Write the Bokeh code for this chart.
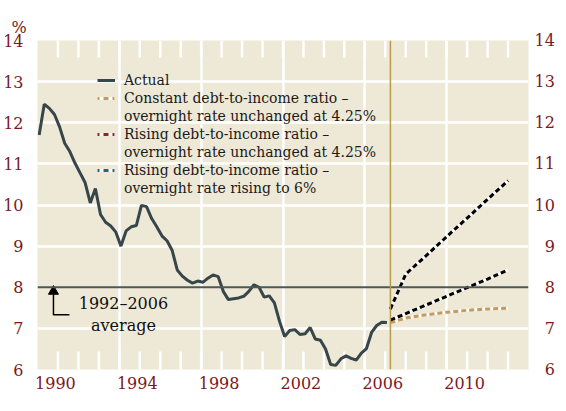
import math
from bokeh.plotting import figure
from bokeh.models import FixedTicker, LinearAxis, Range1d, Span, Legend, LegendItem
from bokeh.core.properties import value
from bokeh.embed import file_html
from bokeh.resources import INLINE

SERIF = "DejaVu Serif"
AXIS_RED = "#7a1a1e"
BG = "#eee8d6"
WHITE = "#ffffff"

# ---- data -------------------------------------------------------------
actual = [11.7, 12.45, 12.35, 12.2, 11.9, 11.5, 11.3, 11.02, 10.78, 10.54,
          10.05, 10.4, 9.77, 9.58, 9.49, 9.34, 9.0, 9.37, 9.47, 9.5,
          9.99, 9.96, 9.67, 9.47, 9.25, 9.13, 8.9, 8.42, 8.27, 8.17,
          8.1, 8.15, 8.12, 8.22, 8.3, 8.26, 7.9, 7.7, 7.72, 7.74,
          7.78, 7.9, 8.06, 8.0, 7.76, 7.79, 7.62, 7.17, 6.8, 6.95,
          6.97, 6.85, 6.87, 7.02, 6.74, 6.71, 6.5, 6.12, 6.1, 6.26,
          6.33, 6.27, 6.23, 6.4, 6.51, 6.9, 7.07, 7.15, 7.14]
quarter_x = [1990.08 + 0.25 * i for i in range(len(actual))]

proj_years = [2007.25, 2008, 2009, 2010, 2011, 2012, 2013]
constant_ratio = [7.14, 7.25, 7.33, 7.39, 7.44, 7.47, 7.49]
rising_unchanged = [7.2, 7.36, 7.57, 7.78, 7.99, 8.2, 8.42]
rising_to_6 = [7.47, 8.32, 8.77, 9.23, 9.68, 10.14, 10.59]

average_1992_2006 = 8.0
forecast_start = 2007.25

label_years = [1990, 1994, 1998, 2002, 2006, 2010]
grid_years = [1994, 1998, 2002, 2006, 2010]
minor_years = list(range(1991, 2014))
y_ticks = [6, 7, 8, 9, 10, 11, 12, 13, 14]
y_grid = [7, 9, 10, 11, 12, 13]
Y_MIN, Y_MAX = 6, 14
X_MIN, X_MAX = 1990, 2014

legend_labels = ["Actual",
                 "Constant debt-to-income ratio \u2013",
                 "overnight rate unchanged at 4.25%",
                 "Rising debt-to-income ratio \u2013",
                 "overnight rate unchanged at 4.25%",
                 "Rising debt-to-income ratio \u2013",
                 "overnight rate rising to 6%"]
note_lines = ["1992\u20132006", "average"]

# ---- figure -----------------------------------------------------------
p = figure(frame_width=491, frame_height=329,
           x_range=Range1d(X_MIN, X_MAX), y_range=Range1d(Y_MIN, Y_MAX),
           output_backend="svg", toolbar_location=None,
           min_border_left=33, min_border_right=26,
           min_border_top=40, min_border_bottom=26,
           background_fill_color=BG, border_fill_color=WHITE,
           outline_line_color=None)

p.title.text = "%"
p.title.align = "left"
p.title.offset = -26
p.title.standoff = 8
p.title.text_font = SERIF
p.title.text_font_size = "16px"
p.title.text_font_style = "normal"
p.title.text_color = AXIS_RED

# white grid lines (Bokeh grids)
p.xgrid.ticker = FixedTicker(ticks=grid_years)
p.ygrid.ticker = FixedTicker(ticks=y_grid)
p.xgrid.grid_line_color = WHITE
p.ygrid.grid_line_color = WHITE
p.xgrid.grid_line_width = 2.5
p.ygrid.grid_line_width = 2.5

# short white year ticks inside top and bottom edges
p.ray(x=minor_years, y=[Y_MIN] * len(minor_years), length=18,
      length_units="screen", angle=math.pi / 2, line_color=WHITE,
      line_width=2.5)
p.ray(x=minor_years, y=[Y_MAX] * len(minor_years), length=17,
      length_units="screen", angle=-math.pi / 2, line_color=WHITE,
      line_width=2.5)

LABEL_SHIFT = 0.875
xa = p.xaxis[0]
xa.ticker = FixedTicker(ticks=[y + LABEL_SHIFT for y in label_years])
xa.major_label_overrides = {y + LABEL_SHIFT: str(y) for y in label_years}
xa.axis_line_color = None
xa.major_tick_line_color = None
xa.minor_tick_line_color = None
xa.major_tick_in = 0
xa.major_tick_out = 0
xa.major_label_standoff = 7
xa.major_label_text_font = SERIF
xa.major_label_text_font_size = "16px"
xa.major_label_text_color = AXIS_RED

ya = p.yaxis[0]
ya.ticker = FixedTicker(ticks=y_ticks)
right_axis = LinearAxis(ticker=FixedTicker(ticks=y_ticks))
right_axis.major_label_overrides = {t: ("\u2007" + str(t) if t < 10 else str(t))
                                    for t in y_ticks}
p.add_layout(right_axis, "right")
for ax, so in ((ya, 14), (right_axis, 6)):
    ax.axis_line_color = None
    ax.major_tick_line_color = None
    ax.minor_tick_line_color = None
    ax.major_tick_in = 0
    ax.major_tick_out = 0
    ax.major_label_standoff = so
    ax.major_label_text_font = SERIF
    ax.major_label_text_font_size = "16px"
    ax.major_label_text_color = AXIS_RED

# reference lines
p.add_layout(Span(location=average_1992_2006, dimension="width",
                  line_color="#4b5957", line_width=2))
p.add_layout(Span(location=forecast_start, dimension="height",
                  line_color="#b89b4c", line_width=1.5))

# series
r_actual = p.line(quarter_x, actual, line_color="#37464a", line_width=3)
for vals, col in ((constant_ratio, "#c39b5c"),
                  (rising_unchanged, "black"),
                  (rising_to_6, "black")):
    p.line(proj_years, vals, line_color=WHITE, line_width=3)
    p.line(proj_years, vals, line_color=col, line_width=3, line_dash="5 3")

# legend proxies: single-point lines draw nothing in the plot
def marker(col, vals):
    w = p.line(x=proj_years[:1], y=vals[:1], line_color=WHITE, line_width=3)
    c = p.line(x=proj_years[:1], y=vals[:1], line_color=col, line_width=3,
               line_dash="2 4 5 4")
    return [w, c]

blank = p.line(x=proj_years[:1], y=constant_ratio[:1], line_color=BG,
               line_width=0)
items = [LegendItem(label=legend_labels[0], renderers=[r_actual]),
         LegendItem(label=legend_labels[1], renderers=marker("#c39b5c", constant_ratio)),
         LegendItem(label=legend_labels[2], renderers=[blank]),
         LegendItem(label=legend_labels[3], renderers=marker("#8c2434", rising_unchanged)),
         LegendItem(label=legend_labels[4], renderers=[blank]),
         LegendItem(label=legend_labels[5], renderers=marker("#1e6b72", rising_to_6)),
         LegendItem(label=legend_labels[6], renderers=[blank])]
legend = Legend(items=items, location=(60, 172), padding=0, margin=0,
                spacing=0, glyph_width=18, glyph_height=18, label_height=18,
                label_standoff=9, label_text_font=SERIF,
                label_text_font_size="14px", label_text_line_height=1.32,
                label_text_color="#1a1a1a", background_fill_color=BG,
                background_fill_alpha=0, border_line_color=None)
p.add_layout(legend)

# average annotation: elbow line plus a triangle head (no Arrow annotation)
ARROW_X, ARROW_BASE, ELBOW_X, HEAD_Y = 1990.78, 7.33, 1991.56, 7.9
p.line([ELBOW_X, ARROW_X, ARROW_X], [ARROW_BASE, ARROW_BASE, HEAD_Y],
       line_color="black", line_width=1.5)
p.scatter(x=[ARROW_X], y=[HEAD_Y], marker="triangle", size=10,
          fill_color="black", line_color="black")
p.text(x=[1994.2, 1994.2], y=[7.6, 7.07], text=note_lines,
       text_font=value(SERIF), text_font_size="16px", text_align="center",
       text_baseline="middle", text_color="#111111")

open("out.html", "w").write(file_html(p, INLINE))
